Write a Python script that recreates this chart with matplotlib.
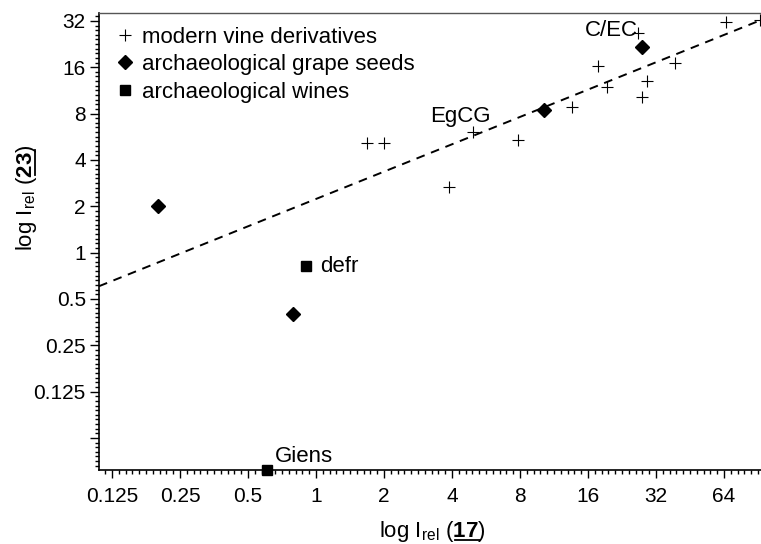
import numpy as np
import matplotlib
matplotlib.use('Agg')
import matplotlib.pyplot as plt
from matplotlib.ticker import FixedLocator, NullFormatter
from matplotlib.lines import Line2D

plt.rcParams['font.family'] = ['Liberation Sans', 'DejaVu Sans']
plt.rcParams['mathtext.fontset'] = 'custom'
plt.rcParams['mathtext.rm'] = 'Liberation Sans'
plt.rcParams['mathtext.it'] = 'Liberation Sans:italic'
plt.rcParams['mathtext.bf'] = 'Liberation Sans:bold'

# ------------------- данные -------------------
modern_x = [1.68, 2.0, 3.89, 4.97, 7.8, 13.55, 17.8, 19.4, 26.7, 29.1, 27.8, 38.8, 65.1, 92.4]
modern_y = [5.14, 5.14, 2.65, 6.05, 5.38, 8.76, 16.4, 11.84, 26.6, 12.98, 10.32, 17.16, 31.4, 32.3]

seeds_x = [0.20, 0.794, 10.25, 27.7]
seeds_y = [2.0, 0.399, 8.46, 21.8]

wines_x = [0.903, 0.605]
wines_y = [0.813, 0.0386]
wines_names = ['defr', 'Giens']

# регрессия: y = fit_a * x ** fit_b
fit_a = 2.23
fit_b = 0.59

xticks = [0.125, 0.25, 0.5, 1, 2, 4, 8, 16, 32, 64]
xticklabels = ['0.125', '0.25', '0.5', '1', '2', '4', '8', '16', '32', '64']
yticks = [0.0625, 0.125, 0.25, 0.5, 1, 2, 4, 8, 16, 32]
yticklabels = ['', '0.125', '0.25', '0.5', '1', '2', '4', '8', '16', '32']

xlim = (0.1095, 93.3)
ylim = (0.0387, 36.0)

W, H = 761, 544
FS = 16

# ------------------- график -------------------
fig = plt.figure(figsize=(W / 100, H / 100), dpi=100)
ax = fig.add_axes([99 / W, 1 - 470 / H, 662 / W, 457 / H])
ax.set_xscale('log', base=2)
ax.set_yscale('log', base=2)
ax.set_xlim(*xlim)
ax.set_ylim(*ylim)

xx = np.geomspace(xlim[0], xlim[1], 50)
ax.plot(xx, fit_a * xx ** fit_b, color='black', lw=1.4, dashes=(4.5, 3.5), zorder=1)

ax.plot(modern_x, modern_y, '+', color='black', ms=9, mew=0.8, ls='none',
        label='modern vine derivatives', clip_on=False, zorder=3)
ax.plot(seeds_x, seeds_y, 'D', color='black', ms=7, ls='none',
        label='archaeological grape seeds', zorder=3)
ax.plot(wines_x, wines_y, 's', color='black', ms=6.5, ls='none',
        label='archaeological wines', clip_on=False, zorder=3)

# подписи точек
ax.annotate(wines_names[0], (wines_x[0], wines_y[0]), xytext=(14, -6), textcoords='offset pixels',
            fontsize=FS, va='baseline', ha='left')
ax.annotate(wines_names[1], (wines_x[1], wines_y[1]), xytext=(8, 8), textcoords='offset pixels',
            fontsize=FS, va='baseline', ha='left')
ax.annotate('EgCG', (modern_x[3], modern_y[3]), xytext=(-43, 10), textcoords='offset pixels',
            fontsize=FS, va='baseline', ha='left')
ax.annotate('C/EC', (seeds_x[3], seeds_y[3]), xytext=(-57, 11), textcoords='offset pixels',
            fontsize=FS, va='baseline', ha='left')

# оси
ax.xaxis.set_major_locator(FixedLocator(xticks))
ax.set_xticklabels(xticklabels)
ax.yaxis.set_major_locator(FixedLocator(yticks))
ax.set_yticklabels(yticklabels)
minor = [2 ** (k / 10) for k in range(-60, 80)]
ax.xaxis.set_minor_locator(FixedLocator(minor))
ax.yaxis.set_minor_locator(FixedLocator(minor))
ax.xaxis.set_minor_formatter(NullFormatter())
ax.yaxis.set_minor_formatter(NullFormatter())

ax.tick_params(which='both', direction='out', top=False, right=False, labelsize=15, width=1.0)
ax.tick_params(axis='y', which='major', length=6.5, pad=3)
ax.tick_params(axis='y', which='minor', length=3.2)
ax.tick_params(axis='x', which='major', length=5.5, pad=7)
ax.tick_params(axis='x', which='minor', length=3)

ax.spines['right'].set_visible(False)
ax.spines['top'].set_color('#555555')
ax.spines['top'].set_linewidth(1.0)
ax.spines['left'].set_linewidth(1.2)
ax.spines['bottom'].set_linewidth(1.2)

ax.legend(loc='upper left', frameon=False, fontsize=FS, handlelength=0.9,
          handletextpad=0.32, labelspacing=0.3, borderaxespad=0.0,
          bbox_to_anchor=(0.018, 0.98), borderpad=0.2)

# --- подписи осей с подчеркнутыми номерами соединений ---
renderer = fig.canvas.get_renderer()


def text_width(s):
    t = fig.text(0, 0, s, fontsize=FS)
    w = t.get_window_extent(renderer).width
    t.remove()
    return w


def axis_label(num, cx, cy, rotate):
    prefix = r'log I$_{\rm rel}$ ('
    full = prefix + r'$\mathbf{' + num + r'}$)'
    pw = text_width(prefix)
    nw = text_width(r'$\mathbf{' + num + r'}$')
    fw = text_width(full)
    if not rotate:
        fig.text(cx / W, 1 - cy / H, full, fontsize=FS, ha='center', va='baseline')
        x0 = cx - fw / 2 + pw + 1
        yl = cy + 2.5
        fig.add_artist(Line2D([x0 / W, (x0 + nw - 1) / W], [1 - yl / H, 1 - yl / H],
                              color='black', lw=1.3))
    else:
        fig.text(cx / W, 1 - cy / H, full, fontsize=FS, ha='center', va='baseline',
                 rotation=90, rotation_mode='anchor')
        y0 = cy + fw / 2 - pw - 1
        xl = cx + 2.5
        fig.add_artist(Line2D([xl / W, xl / W], [1 - y0 / H, 1 - (y0 - nw + 1) / H],
                              color='black', lw=1.3))


axis_label('17', 432, 537, False)
axis_label('23', 32, 198, True)

fig.savefig('out.png', dpi=100)
